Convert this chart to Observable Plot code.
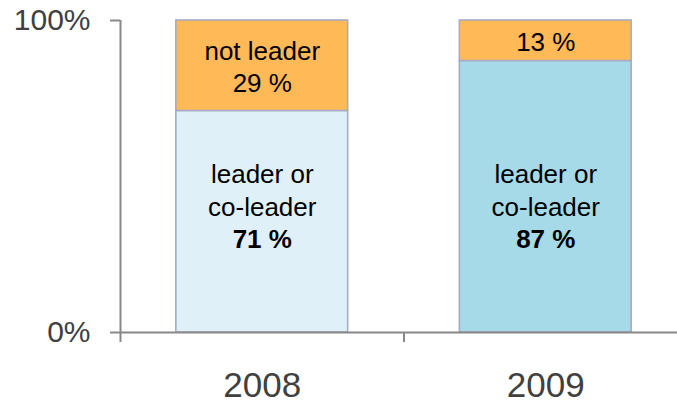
<!DOCTYPE html>
<html>
<head>
<meta charset="utf-8">
<script src="https://cdn.jsdelivr.net/npm/d3@7"></script>
<script src="https://cdn.jsdelivr.net/npm/@observablehq/plot@0.6"></script>
<style>
  html, body { margin: 0; padding: 0; background: #fff; }
  #chart { width: 677px; height: 402px; }
</style>
</head>
<body>
<div id="chart"></div>
<script>
// ---- data ----
const years = [2008, 2009];
const leaderShare = [71, 87];
const notLeaderShare = [29, 13];
const leaderName = "leader or\nco-leader";
const notLeaderNames = ["not leader", null];
const bandEdges = [2007.5, 2008.5, 2009.5];
const yTicks = [0, 100];

// ---- styles ----
const ORANGE = "#FFB957";
const LIGHT_BLUE = "#E0F0F9";
const BLUE = "#A6DAE8";
const BAR_STROKE = "#A7ABC3";
const AXIS = "#888888";
const LABEL = "#404040";
const BAR_HALF = 0.303; // bar width as fraction of the band
const FONT = "Arial, 'Liberation Sans', Helvetica, sans-serif";

const segments = years.flatMap((year, i) => [
  {year, seg: "leader", y1: 0, y2: leaderShare[i], value: leaderShare[i]},
  {year, seg: "not", y1: leaderShare[i], y2: leaderShare[i] + notLeaderShare[i], value: notLeaderShare[i]}
]);
const upper = segments.filter(d => d.seg === "not");
const lower = segments.filter(d => d.seg === "leader");
const lowerLabelY = d3.mean(lower, d => (d.y1 + d.y2) / 2);

const fillOf = d => d.seg === "not" ? ORANGE : (d.year === years[0] ? LIGHT_BLUE : BLUE);

const chart = Plot.plot({
  width: 677,
  height: 402,
  marginTop: 20,
  marginBottom: 70,
  marginLeft: 120,
  marginRight: 0,
  style: {fontFamily: FONT, background: "#fff"},
  x: {domain: [bandEdges[0], bandEdges[bandEdges.length - 1]], range: [120, 687], axis: null},
  y: {domain: [0, 100], axis: null},
  marks: [
    Plot.rectY(segments, {
      x1: d => d.year - BAR_HALF, x2: d => d.year + BAR_HALF,
      y1: "y1", y2: "y2",
      fill: fillOf, stroke: BAR_STROKE, strokeWidth: 1.6
    }),
    // axes lines
    Plot.ruleX([bandEdges[0]], {y1: yTicks[0], y2: yTicks[1], stroke: AXIS, strokeWidth: 2}),
    Plot.ruleY([0], {stroke: AXIS, strokeWidth: 2}),
    Plot.axisY(yTicks, {
      tickSize: 10, tickPadding: 20, tickFormat: d => d + "%", label: null,
      stroke: AXIS, strokeWidth: 2, fill: LABEL, fontSize: 30
    }),
    Plot.axisX(bandEdges, {
      tickSize: 10, tickFormat: () => "", label: null, stroke: AXIS, strokeWidth: 2
    }),
    Plot.axisX(years, {
      tickSize: 0, tickPadding: 40, tickFormat: d => String(d), label: null,
      fill: LABEL, fontSize: 35
    }),
    // upper segment labels
    Plot.text(upper, {
      x: "year", y: d => (d.y1 + d.y2) / 2,
      text: d => {
        const name = notLeaderNames[years.indexOf(d.year)];
        return (name ? name + "\n" : "") + d.value + " %";
      },
      fontSize: 26, lineHeight: 1.25, fill: "#000"
    }),
    // lower segment labels
    Plot.text(lower, {
      x: "year", y: () => lowerLabelY, dy: -4,
      text: () => leaderName + "\n ",
      fontSize: 26, lineHeight: 1.25, fill: "#000"
    }),
    Plot.text(lower, {
      x: "year", y: () => lowerLabelY, dy: -4,
      text: d => " \n \n" + d.value + " %",
      fontSize: 26, lineHeight: 1.25, fontWeight: "bold", fill: "#000"
    })
  ]
});
document.getElementById("chart").appendChild(chart);
</script>
</body>
</html>
